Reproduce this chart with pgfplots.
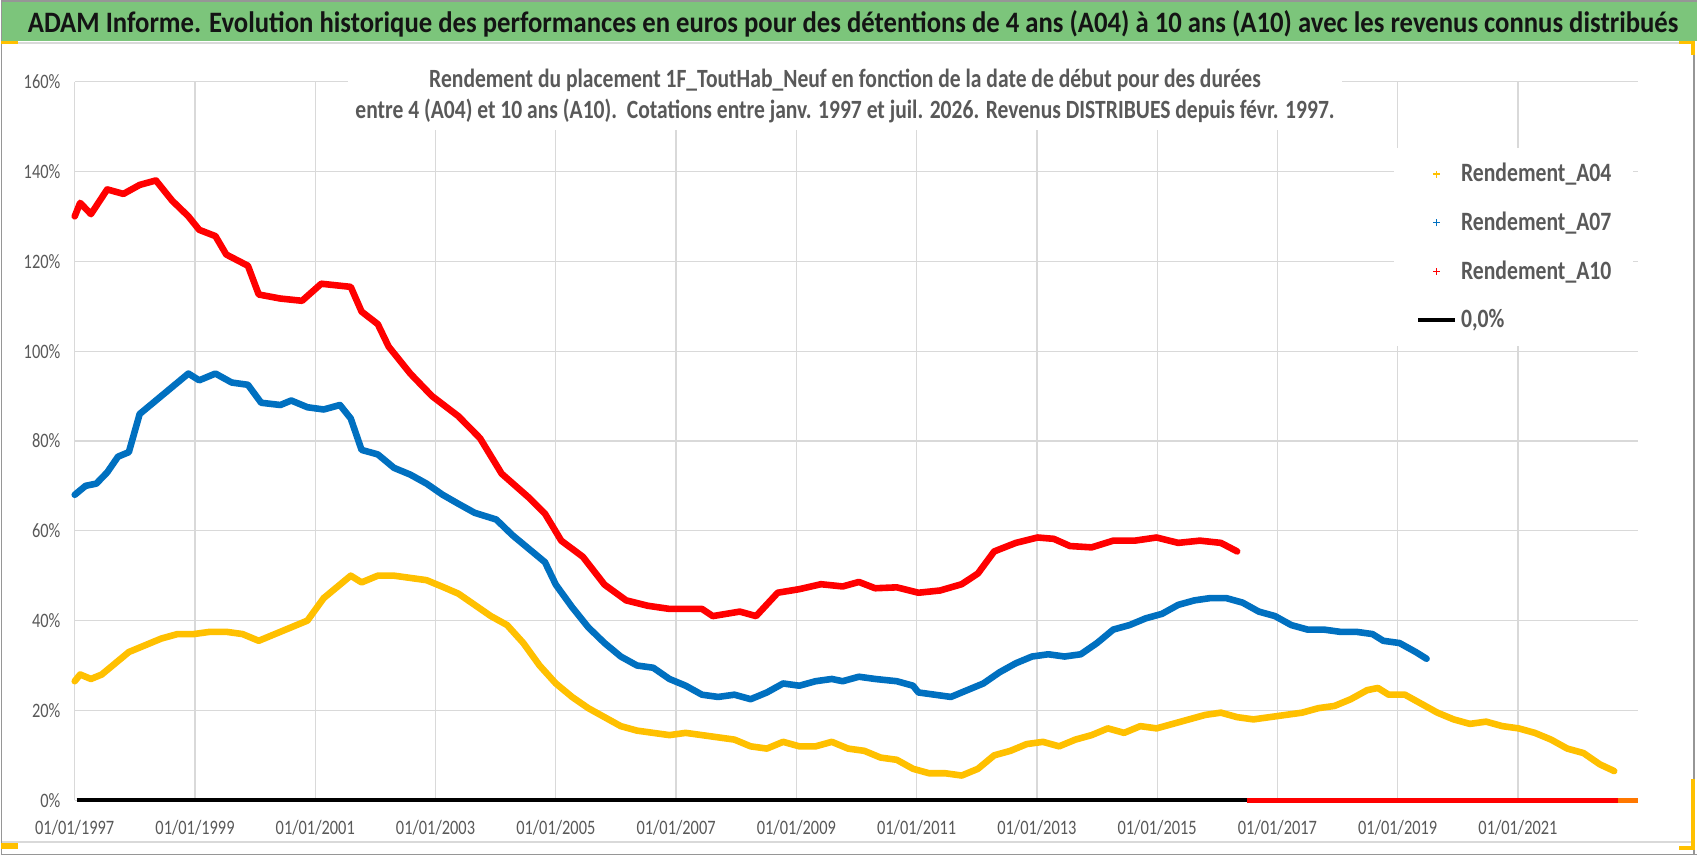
\documentclass[border=0pt]{standalone}
\usepackage{pgfplots}
\pgfplotsset{compat=1.18}
\usepackage{fontspec}
\setmainfont{Carlito}
\usepackage{graphicx}
\definecolor{a04}{RGB}{255,192,0}
\definecolor{a07}{RGB}{0,112,192}
\definecolor{a10}{RGB}{255,0,0}
\definecolor{gridc}{RGB}{217,217,217}
\definecolor{txtgray}{RGB}{89,89,89}
\definecolor{greenbar}{RGB}{124,197,123}
\definecolor{titlec}{RGB}{20,20,20}
\definecolor{handle}{RGB}{255,192,0}
\definecolor{framec}{RGB}{150,150,150}
\newcommand\tl[1]{\scalebox{1}[1.25]{#1}}
\newcommand\vs[1]{\scalebox{1}[1.22]{#1}}
\begin{document}
\begin{tikzpicture}
% page background and frame
\fill[white] (0,0) rectangle (849pt,428pt);
\fill[greenbar] (0,407.65pt) rectangle (849pt,427pt);
\draw[framec, line width=0.8pt] (0,427.6pt) -- (849pt,427.6pt);
\draw[gridc, line width=0.8pt] (0,406.35pt) -- (847.5pt,406.35pt);
\draw[gridc, line width=0.8pt] (0,6.65pt) -- (847.5pt,6.65pt);
\draw[framec, line width=0.8pt] (0,0.4pt) -- (849pt,0.4pt);
\draw[framec, line width=0.8pt] (0.4pt,0) -- (0.4pt,427pt);
\draw[framec, line width=0.8pt] (847.5pt,0) -- (847.5pt,406pt);
\fill[handle] (0,406pt) rectangle (8.85pt,407.65pt);
\fill[handle] (0,3pt) rectangle (8.5pt,6pt);
\fill[handle] (840pt,406pt) rectangle (847.5pt,407.4pt);
\fill[handle] (846pt,400.5pt) rectangle (847.8pt,407.4pt);
\fill[handle] (845.7pt,2.5pt) rectangle (847.8pt,38pt);
\fill[handle] (840pt,2.5pt) rectangle (847.8pt,4.5pt);

\begin{axis}[
  at={(37pt,27.5pt)}, anchor=south west,
  scale only axis, width=782.5pt, height=359.65pt,
  xmin=1997, xmax=2023, ymin=0, ymax=160,
  clip=false,
  axis line style={draw=none},
  major tick length=0pt,
  grid=major,
  major grid style={gridc, line width=0.6pt},
  xtick={1997,1999,2001,2003,2005,2007,2009,2011,2013,2015,2017,2019,2021},
  xticklabels={\tl{01/01/1997},\tl{01/01/1999},\tl{01/01/2001},\tl{01/01/2003},\tl{01/01/2005},\tl{01/01/2007},\tl{01/01/2009},\tl{01/01/2011},\tl{01/01/2013},\tl{01/01/2015},\tl{01/01/2017},\tl{01/01/2019},\tl{01/01/2021}},
  ytick={0,20,40,60,80,100,120,140,160},
  yticklabels={\tl{0\%},\tl{20\%},\tl{40\%},\tl{60\%},\tl{80\%},\tl{100\%},\tl{120\%},\tl{140\%},\tl{160\%}},
  xticklabel style={anchor=base, yshift=-17pt, inner sep=0pt, font=\fontsize{8.2pt}{10pt}\selectfont, text=txtgray},
  yticklabel style={anchor=east, xshift=-7pt, inner sep=0pt, font=\fontsize{8.2pt}{10pt}\selectfont, text=txtgray},
  legend cell align=left,
  legend style={at={(axis description cs:0.8435,0.9078)}, anchor=north west,
    draw=none, fill=white, inner xsep=11pt, inner ysep=7.5pt,
    row sep=13.6pt, column sep=1.85pt,
    font=\fontsize{10.85pt}{12pt}\selectfont\bfseries, text=txtgray,
    nodes={inner sep=0pt}},
]
\addplot[draw=a04, line width=3.3pt, line join=round, line cap=round,
  legend image code/.code={\path[draw=none,fill=none] (0,0) -- (18.5pt,0);
    \draw[draw=a04, line width=0.55pt, line cap=butt] (7.5pt,0) -- (11pt,0) (9.25pt,-1.75pt) -- (9.25pt,1.75pt);}]
coordinates {
(1997.00,26.5) (1997.09,28) (1997.27,27) (1997.45,28) (1997.63,30) (1997.90,33)
(1998.17,34.5) (1998.44,36) (1998.71,37) (1998.98,37) (1999.25,37.5) (1999.52,37.5)
(1999.79,37) (2000.06,35.5) (2000.33,37) (2000.60,38.5) (2000.87,40) (2001.14,45)
(2001.32,47) (2001.59,50) (2001.77,48.5) (2002.04,50) (2002.31,50) (2002.58,49.5)
(2002.85,49) (2003.12,47.5) (2003.38,46) (2003.65,43.5) (2003.92,41) (2004.19,39)
(2004.46,35) (2004.73,30) (2005.00,26) (2005.27,23) (2005.54,20.5) (2005.81,18.5)
(2006.08,16.5) (2006.35,15.5) (2006.62,15) (2006.89,14.5) (2007.16,15) (2007.43,14.5)
(2007.70,14) (2007.97,13.5) (2008.24,12) (2008.51,11.5) (2008.78,13) (2009.05,12)
(2009.32,12) (2009.59,13) (2009.86,11.5) (2010.13,11) (2010.40,9.5) (2010.67,9)
(2010.94,7) (2011.21,6) (2011.48,6) (2011.75,5.5) (2012.02,7) (2012.29,10)
(2012.56,11) (2012.83,12.5) (2013.10,13) (2013.37,12) (2013.64,13.5) (2013.91,14.5)
(2014.18,16) (2014.45,15) (2014.72,16.5) (2014.99,16) (2015.26,17) (2015.53,18)
(2015.80,19) (2016.06,19.5) (2016.33,18.5) (2016.60,18) (2016.87,18.5) (2017.14,19)
(2017.41,19.5) (2017.68,20.5) (2017.95,21) (2018.22,22.5) (2018.49,24.5) (2018.67,25)
(2018.85,23.5) (2019.12,23.5) (2019.39,21.5) (2019.66,19.5) (2019.93,18) (2020.20,17)
(2020.47,17.5) (2020.74,16.5) (2021.01,16) (2021.28,15) (2021.55,13.5) (2021.82,11.5)
(2022.09,10.5) (2022.36,8) (2022.60,6.5)
};
\addlegendentry{\vs{Rendement\_A04}\hspace{6pt}}
\addplot[draw=a07, line width=3.3pt, line join=round, line cap=round,
  legend image code/.code={\path[draw=none,fill=none] (0,0) -- (18.5pt,0);
    \draw[draw=a07, line width=0.55pt, line cap=butt] (7.5pt,0) -- (11pt,0) (9.25pt,-1.75pt) -- (9.25pt,1.75pt);}]
coordinates {
(1997.00,68) (1997.18,70) (1997.36,70.5) (1997.54,73) (1997.72,76.5) (1997.90,77.5)
(1998.08,86) (1998.35,89) (1998.62,92) (1998.89,95) (1999.07,93.5) (1999.34,95)
(1999.61,93) (1999.88,92.5) (2000.10,88.5) (2000.42,88) (2000.60,89) (2000.87,87.5)
(2001.14,87) (2001.41,88) (2001.59,85) (2001.77,78) (2002.04,77) (2002.31,74)
(2002.58,72.5) (2002.85,70.5) (2003.12,68) (2003.38,66) (2003.65,64) (2004.01,62.5)
(2004.28,59) (2004.55,56) (2004.82,53) (2005.00,48) (2005.27,43) (2005.54,38.5)
(2005.81,35) (2006.08,32) (2006.35,30) (2006.62,29.5) (2006.89,27) (2007.16,25.5)
(2007.43,23.5) (2007.70,23) (2007.97,23.5) (2008.24,22.5) (2008.51,24) (2008.78,26)
(2009.05,25.5) (2009.32,26.5) (2009.59,27) (2009.77,26.5) (2010.04,27.5) (2010.31,27)
(2010.67,26.5) (2010.94,25.5) (2011.03,24) (2011.30,23.5) (2011.57,23) (2011.84,24.5)
(2012.11,26) (2012.38,28.5) (2012.65,30.5) (2012.92,32) (2013.19,32.5) (2013.46,32)
(2013.73,32.5) (2014.00,35) (2014.27,38) (2014.54,39) (2014.81,40.5) (2015.08,41.5)
(2015.35,43.5) (2015.62,44.5) (2015.88,45) (2016.15,45) (2016.42,44) (2016.69,42)
(2016.96,41) (2017.23,39) (2017.50,38) (2017.77,38) (2018.04,37.5) (2018.31,37.5)
(2018.58,37) (2018.76,35.5) (2019.03,35) (2019.30,33) (2019.48,31.5)
};
\addlegendentry{\vs{Rendement\_A07}}
\addplot[draw=a10, line width=3.3pt, line join=round, line cap=round,
  legend image code/.code={\path[draw=none,fill=none] (0,0) -- (18.5pt,0);
    \draw[draw=a10, line width=0.55pt, line cap=butt] (7.5pt,0) -- (11pt,0) (9.25pt,-1.75pt) -- (9.25pt,1.75pt);}]
coordinates {
(1997.00,130) (1997.09,133) (1997.27,130.5) (1997.54,136) (1997.81,135) (1998.08,137)
(1998.35,138) (1998.62,133.5) (1998.89,130) (1999.07,127) (1999.34,125.6) (1999.52,121.5)
(1999.88,119) (2000.06,112.6) (2000.42,111.7) (2000.78,111.2) (2001.10,115) (2001.59,114.3)
(2001.77,108.8) (2002.04,106) (2002.22,101) (2002.58,95) (2002.94,90) (2003.38,85.5)
(2003.74,80.6) (2004.10,72.7) (2004.55,67.4) (2004.82,63.8) (2005.09,57.8) (2005.45,54.2)
(2005.81,48) (2006.17,44.5) (2006.53,43.3) (2006.89,42.6) (2007.43,42.6) (2007.61,41)
(2008.06,42) (2008.33,41) (2008.69,46.2) (2009.05,47) (2009.41,48.1) (2009.77,47.6)
(2010.04,48.6) (2010.31,47.2) (2010.67,47.4) (2011.03,46.2) (2011.39,46.7) (2011.75,48.1)
(2012.02,50.5) (2012.29,55.4) (2012.65,57.3) (2013.01,58.5) (2013.28,58.2) (2013.55,56.6)
(2013.91,56.3) (2014.27,57.8) (2014.63,57.8) (2014.99,58.5) (2015.35,57.3) (2015.71,57.8)
(2016.06,57.3) (2016.33,55.4)
};
\addlegendentry{\vs{Rendement\_A10}}
\addplot[draw=black, line width=2pt,
  legend image code/.code={\draw[draw=black, line width=2.2pt] (0,0) -- (18.5pt,0);}]
coordinates {(1997.03,0) (2016.5,0)};
\addlegendentry{\vs{0,0\%}}
\addplot[draw=a10, line width=2.4pt, forget plot] coordinates {(2016.5,0) (2022.67,0)};
\addplot[draw={rgb,255:red,255;green,120;blue,0}, line width=2.4pt, forget plot] coordinates {(2022.67,0) (2023,0)};
\end{axis}

% subtitle with white background
\fill[white] (174pt,363pt) rectangle (671pt,399pt);
\node[anchor=base, inner sep=0pt, text=txtgray] at (422.5pt,368.5pt)
  {\scalebox{1}[1.22]{\resizebox{490pt}{!}{\fontsize{10.5pt}{12.6pt}\selectfont\bfseries
  \begin{tabular}[b]{@{}c@{}}Rendement du placement 1F\_ToutHab\_Neuf en fonction de la date de début pour des durées\\
  entre 4 (A04) et 10 ans (A10).\ \ Cotations entre janv. 1997 et juil. 2026. Revenus DISTRIBUES depuis févr. 1997.\end{tabular}}}};

% title
\node[anchor=base west, inner sep=0pt, text=titlec] at (13.35pt,411.65pt)
  {\scalebox{1}[1.11]{\resizebox{826pt}{!}{\fontsize{12pt}{14pt}\selectfont\bfseries ADAM Informe. Evolution historique des performances en euros pour des détentions de 4 ans (A04) à 10 ans (A10) avec les revenus connus distribués}}};
\end{tikzpicture}
\end{document}
